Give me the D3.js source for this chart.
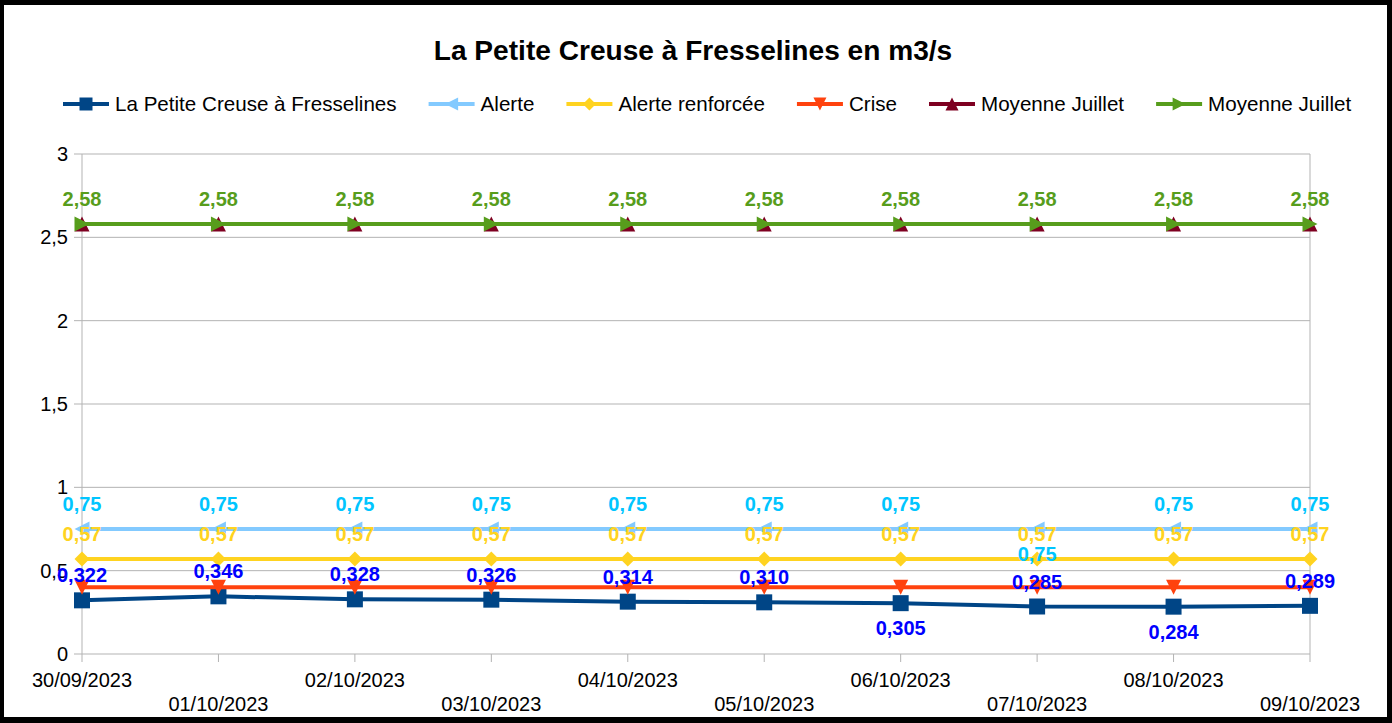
<!DOCTYPE html>
<html>
<head>
<meta charset="utf-8">
<script src="https://cdn.jsdelivr.net/npm/d3@7"></script>
<style>
  html, body { margin: 0; padding: 0; background: #fff; }
  svg text { font-family: "Liberation Sans", Arial, sans-serif; }
</style>
</head>
<body>
<svg id="chart"></svg>
<script>
// --- data -------------------------------------------------------------
const dates = ['30/09/2023', '01/10/2023', '02/10/2023', '03/10/2023', '04/10/2023',
               '05/10/2023', '06/10/2023', '07/10/2023', '08/10/2023', '09/10/2023'];
const debit = [0.322, 0.346, 0.328, 0.326, 0.314, 0.310, 0.305, 0.285, 0.284, 0.289];
const alerte = [0.75, 0.75, 0.75, 0.75, 0.75, 0.75, 0.75, 0.75, 0.75, 0.75];
const alerteRenforcee = [0.57, 0.57, 0.57, 0.57, 0.57, 0.57, 0.57, 0.57, 0.57, 0.57];
const crise = [0.4, 0.4, 0.4, 0.4, 0.4, 0.4, 0.4, 0.4, 0.4, 0.4];
const moyenneJuillet = [2.58, 2.58, 2.58, 2.58, 2.58, 2.58, 2.58, 2.58, 2.58, 2.58];
const moyenneJuillet2 = [2.58, 2.58, 2.58, 2.58, 2.58, 2.58, 2.58, 2.58, 2.58, 2.58];
const yTicks = [0, 0.5, 1, 1.5, 2, 2.5, 3];
const title = 'La Petite Creuse à Fresselines en m3/s';

// --- layout -----------------------------------------------------------
const W = 1392, H = 723;
const PLOT = { left: 82, right: 1310, top: 154, bottom: 654 };

const frFmt = f => v => f(v).replace('.', ',');

const series = [
  { name: 'La Petite Creuse à Fresselines', values: debit, color: '#004586', marker: 'square',
    label: { color: '#0000ff', fmt: frFmt(d3.format('.3f')), below: [6, 8] } },
  { name: 'Alerte', values: alerte, color: '#83caff', marker: 'left',
    label: { color: '#00c5ff', fmt: frFmt(String), below: [7] } },
  { name: 'Alerte renforcée', values: alerteRenforcee, color: '#ffd320', marker: 'diamond',
    label: { color: '#ffd320', fmt: frFmt(String), below: [] } },
  { name: 'Crise', values: crise, color: '#ff420e', marker: 'down', label: null },
  { name: 'Moyenne Juillet', values: moyenneJuillet, color: '#7e0021', marker: 'up', label: null },
  { name: 'Moyenne Juillet', values: moyenneJuillet2, color: '#579d1c', marker: 'right',
    label: { color: '#579d1c', fmt: frFmt(String), below: [] } }
];

function markerPath(type, s) {
  const h = s / 2;
  switch (type) {
    case 'square':  return `M${-h},${-h}H${h}V${h}H${-h}Z`;
    case 'diamond': return `M0,${-h}L${h},0L0,${h}L${-h},0Z`;
    case 'down':    return `M${-h},${-h}L${h},${-h}L0,${h}Z`;
    case 'up':      return `M${-h},${h}L${h},${h}L0,${-h}Z`;
    case 'left':    return `M${h},${-h}L${h},${h}L${-h},0Z`;
    case 'right':   return `M${-h},${-h}L${-h},${h}L${h},0Z`;
  }
}

const svg = d3.select('#chart').attr('width', W).attr('height', H);

// frame
svg.append('rect').attr('width', W).attr('height', H).attr('fill', '#000');
svg.append('rect').attr('x', 4).attr('y', 5).attr('width', 1383).attr('height', 712).attr('fill', '#fff');

// title
svg.append('text')
  .attr('x', 693).attr('y', 60)
  .attr('text-anchor', 'middle')
  .attr('font-size', 28.1).attr('font-weight', 'bold')
  .text(title);

// scales
const x = d3.scalePoint().domain(d3.range(dates.length)).range([PLOT.left, PLOT.right]);
const y = d3.scaleLinear().domain([0, 3]).range([PLOT.bottom, PLOT.top]);

// grid
svg.append('g')
  .selectAll('line').data(yTicks).join('line')
  .attr('x1', PLOT.left - 8).attr('x2', PLOT.right)
  .attr('y1', d => y(d)).attr('y2', d => y(d))
  .attr('stroke', '#b3b3b3').attr('stroke-width', 1);
svg.append('line')
  .attr('x1', PLOT.left).attr('x2', PLOT.left)
  .attr('y1', PLOT.top).attr('y2', PLOT.bottom)
  .attr('stroke', '#b3b3b3');
svg.append('line')
  .attr('x1', PLOT.right).attr('x2', PLOT.right)
  .attr('y1', PLOT.top).attr('y2', PLOT.bottom)
  .attr('stroke', '#b3b3b3');

// y axis labels
svg.append('g')
  .selectAll('text').data(yTicks).join('text')
  .attr('x', 68).attr('y', d => y(d) + 7)
  .attr('text-anchor', 'end')
  .attr('font-size', 20)
  .text(frFmt(String));

// x axis ticks + labels (staggered)
svg.append('g')
  .selectAll('line').data(d3.range(dates.length)).join('line')
  .attr('x1', d => x(d)).attr('x2', d => x(d))
  .attr('y1', PLOT.bottom).attr('y2', PLOT.bottom + 8)
  .attr('stroke', '#b3b3b3');
svg.append('g')
  .selectAll('text').data(dates).join('text')
  .attr('x', (d, i) => x(i))
  .attr('y', (d, i) => i % 2 === 0 ? 687 : 711)
  .attr('text-anchor', 'middle')
  .attr('font-size', 20)
  .text(d => d);

// series lines + markers
const line = d3.line().x((d, i) => x(i)).y(d => y(d));
series.forEach(s => {
  const g = svg.append('g');
  g.append('path')
    .attr('d', line(s.values))
    .attr('fill', 'none')
    .attr('stroke', s.color)
    .attr('stroke-width', 4)
    .attr('stroke-linejoin', 'round');
  g.selectAll('path.m').data(s.values).join('path')
    .attr('class', 'm')
    .attr('transform', (d, i) => `translate(${x(i)},${y(d)})`)
    .attr('d', markerPath(s.marker, s.marker === 'square' ? 16 : 15))
    .attr('fill', s.color);
});

// data labels
series.filter(s => s.label).forEach(s => {
  svg.append('g')
    .selectAll('text').data(s.values).join('text')
    .attr('x', (d, i) => x(i))
    .attr('y', (d, i) => s.label.below.includes(i) ? y(d) + 32 : y(d) - 18)
    .attr('text-anchor', 'middle')
    .attr('font-size', 20).attr('font-weight', 'bold')
    .attr('fill', s.label.color)
    .text(d => s.label.fmt(d));
});

// legend
const legend = svg.append('g').attr('transform', 'translate(63,104)');
let lx = 0;
series.forEach(s => {
  const item = legend.append('g').attr('transform', `translate(${lx},0)`);
  item.append('line')
    .attr('x1', 0).attr('x2', 46)
    .attr('stroke', s.color).attr('stroke-width', 4);
  item.append('path')
    .attr('transform', 'translate(23,0)')
    .attr('d', markerPath(s.marker, 13))
    .attr('fill', s.color);
  const t = item.append('text')
    .attr('x', 52).attr('y', 7)
    .attr('font-size', 20.6)
    .text(s.name);
  lx += 52 + t.node().getComputedTextLength() + 32;
});
</script>
</body>
</html>
